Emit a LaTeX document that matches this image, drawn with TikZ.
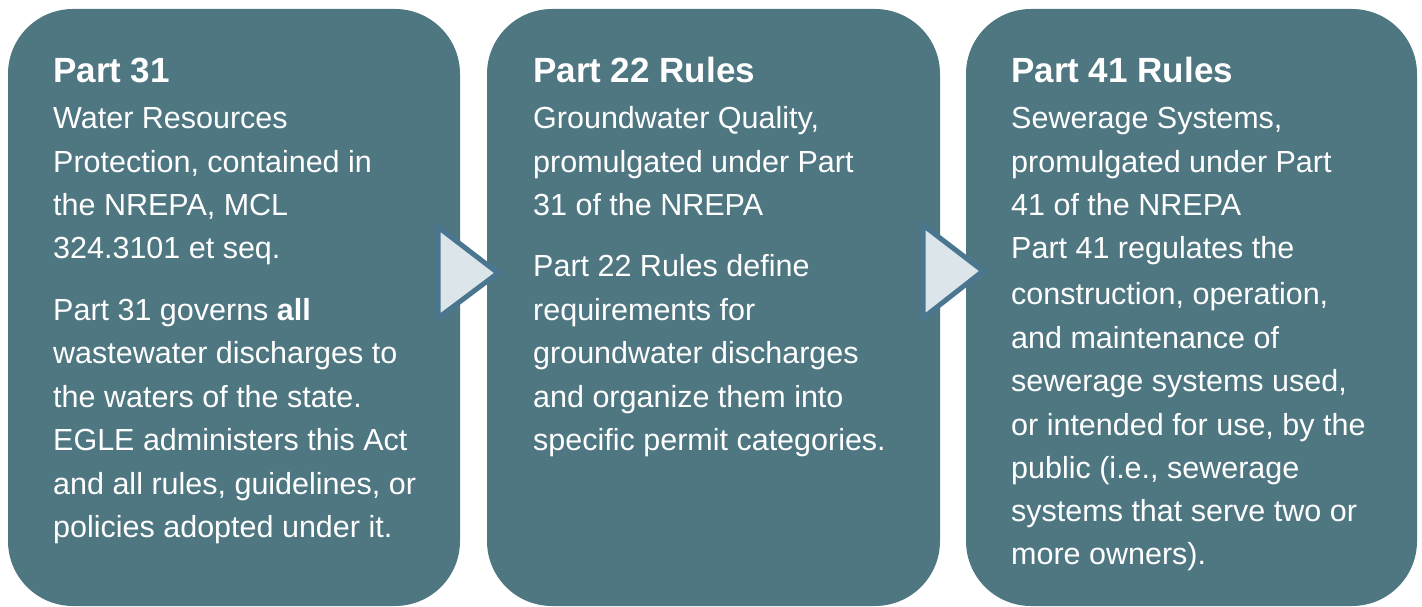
\documentclass[tikz,border=0pt]{standalone}
\usepackage{fontspec}
\setmainfont{Liberation Sans}
\definecolor{boxteal}{HTML}{4F7782}
\definecolor{arrfill}{HTML}{DBE5EA}
\definecolor{arrline}{HTML}{4A7690}
\tikzset{
  panel/.style={fill=boxteal, draw=none, rounded corners=65pt, inner sep=0pt},
  ttl/.style={anchor=base west, inner sep=0pt, text=white, font=\fontsize{35}{40}\selectfont\bfseries},
  ln/.style={anchor=base west, inner sep=0pt, text=white, font=\fontsize{30.5}{43}\selectfont},
  chev/.style={fill=arrfill, draw=arrline, line width=5pt, line join=miter}
}
\begin{document}
\begin{tikzpicture}[x=1pt,y=-1pt]
\useasboundingbox (0,0) rectangle (1422,607);
\fill[white] (0,0) rectangle (1422,607);
% panels
\node[panel, minimum width=452pt, minimum height=597pt] (b1) at (234,307.5) {};
\node[panel, minimum width=453pt, minimum height=597pt] (b2) at (713.5,307.5) {};
\node[panel, minimum width=451pt, minimum height=597pt] (b3) at (1191.5,307.5) {};
% chevrons
\draw[chev] (438,227) -- (438,318) -- (498,273) -- cycle;
\draw[chev] (923,225) -- (923,318) -- (983,271) -- cycle;
% box 1
\node[ttl] (t1) at (53,83) {Part 31};
\node[ln] (a1) at (53,129) {Water Resources};
\node[ln] (a2) at (53,172) {Protection, contained in};
\node[ln] (a3) at (53,215) {the NREPA, MCL};
\node[ln] (a4) at (53,258) {324.3101 et seq.};
\node[ln] (a5) at (53,320) {Part 31 governs \textbf{all}};
\node[ln] (a6) at (53,363) {wastewater discharges to};
\node[ln] (a7) at (53,407) {the waters of the state.};
\node[ln] (a8) at (53,450) {EGLE administers this Act};
\node[ln] (a9) at (53,494) {and all rules, guidelines, or};
\node[ln] (a10) at (53,537) {policies adopted under it.};
% box 2
\node[ttl] (t2) at (533,83) {Part 22 Rules};
\node[ln] (c1) at (533,129) {Groundwater Quality,};
\node[ln] (c2) at (533,172) {promulgated under Part};
\node[ln] (c3) at (533,215) {31 of the NREPA};
\node[ln] (c4) at (533,276) {Part 22 Rules define};
\node[ln] (c5) at (533,320) {requirements for};
\node[ln] (c6) at (533,363) {groundwater discharges};
\node[ln] (c7) at (533,407) {and organize them into};
\node[ln] (c8) at (533,450) {specific permit categories.};
% box 3
\node[ttl] (t3) at (1011,83) {Part 41 Rules};
\node[ln] (e1) at (1011,129) {Sewerage Systems,};
\node[ln] (e2) at (1011,172) {promulgated under Part};
\node[ln] (e3) at (1011,215) {41 of the NREPA};
\node[ln] (e4) at (1011,258) {Part 41 regulates the};
\node[ln] (e5) at (1011,304) {construction, operation,};
\node[ln] (e6) at (1011,348) {and maintenance of};
\node[ln] (e7) at (1011,391) {sewerage systems used,};
\node[ln] (e8) at (1011,435) {or intended for use, by the};
\node[ln] (e9) at (1011,478) {public (i.e., sewerage};
\node[ln] (e10) at (1011,521) {systems that serve two or};
\node[ln] (e11) at (1011,564) {more owners).};
\end{tikzpicture}
\end{document}
